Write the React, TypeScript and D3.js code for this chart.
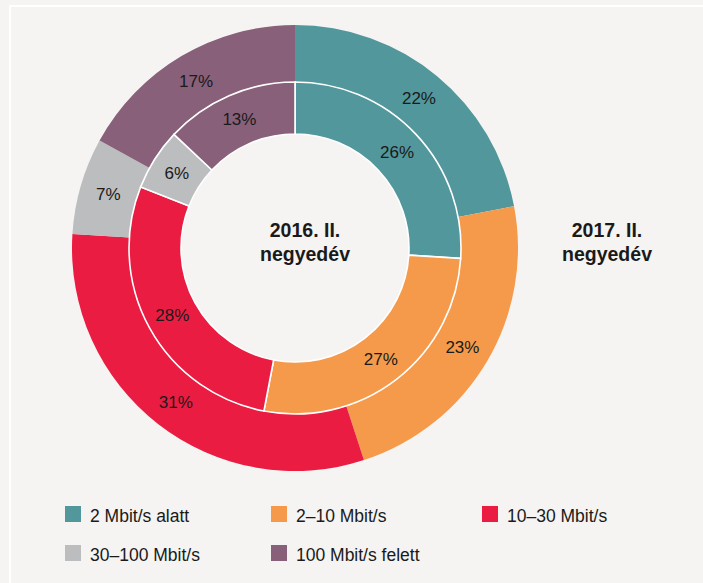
import { useRef, useEffect } from "react";
import * as d3 from "d3";

// categories, clockwise from 12 o'clock
const categories = [
  "2 Mbit/s alatt",
  "2–10 Mbit/s",
  "10–30 Mbit/s",
  "30–100 Mbit/s",
  "100 Mbit/s felett",
];
const colors = ["#52979c", "#f59a4a", "#ea1c42", "#bbbdbf", "#88607a"];

// inner ring = 2016 Q2, outer ring = 2017 Q2
const values2016 = [26, 27, 28, 6, 13];
const values2017 = [22, 23, 31, 7, 17];

const centerLabel = ["2016. II.", "negyedév"];
const sideLabel = ["2017. II.", "negyedév"];

type Slice = { name: string; value: number; color: string };

const W = 703;
const H = 583;

const App = () => {
  const svgRef = useRef<SVGSVGElement | null>(null);

  useEffect(() => {
    if (!svgRef.current) return;
    const svg = d3.select(svgRef.current);
    svg.selectAll("*").remove();

    const font = "'Liberation Sans', Arial, sans-serif";

    // background + white frame lines
    svg.append("rect").attr("width", W).attr("height", H).attr("fill", "#f5f4f2");
    svg.append("rect").attr("x", 9).attr("y", 5).attr("width", W - 9).attr("height", 2).attr("fill", "#ffffff");
    svg.append("rect").attr("x", 9).attr("y", 5).attr("width", 2).attr("height", H - 5).attr("fill", "#ffffff");

    const cx = 295;
    const cy = 248;
    const g = svg.append("g").attr("transform", `translate(${cx},${cy})`);

    const pie = d3.pie<Slice>().sort(null).value((d) => d.value);
    const toSlices = (vals: number[]): Slice[] =>
      vals.map((v, i) => ({ name: categories[i], value: v, color: colors[i] }));

    const outerArc = d3.arc<d3.PieArcDatum<Slice>>().innerRadius(166).outerRadius(223);
    const innerArc = d3.arc<d3.PieArcDatum<Slice>>().innerRadius(114).outerRadius(166);

    const outerData = pie(toSlices(values2017));
    const innerData = pie(toSlices(values2016));

    // outer ring (2017)
    g.selectAll("path.outer")
      .data(outerData)
      .enter()
      .append("path")
      .attr("class", "outer")
      .attr("d", outerArc)
      .attr("fill", (d) => d.data.color);

    // inner ring (2016) with white separators
    g.selectAll("path.inner")
      .data(innerData)
      .enter()
      .append("path")
      .attr("class", "inner")
      .attr("d", innerArc)
      .attr("fill", (d) => d.data.color)
      .attr("stroke", "#ffffff")
      .attr("stroke-width", 1.6);

    // percent labels
    const addLabels = (data: d3.PieArcDatum<Slice>[], arc: typeof outerArc, cls: string) => {
      g.selectAll(`text.${cls}`)
        .data(data)
        .enter()
        .append("text")
        .attr("class", cls)
        .attr("x", (d) => arc.centroid(d)[0])
        .attr("y", (d) => arc.centroid(d)[1])
        .attr("dy", "0.35em")
        .attr("text-anchor", "middle")
        .style("font-family", font)
        .style("font-size", "17px")
        .style("fill", "#1a1a1a")
        .text((d) => `${d.data.value}%`);
    };
    addLabels(outerData, outerArc, "lblOuter");
    addLabels(innerData, innerArc, "lblInner");

    // ring titles
    const title = (lines: string[], x: number) => {
      const t = svg
        .append("text")
        .attr("text-anchor", "middle")
        .style("font-family", font)
        .style("font-size", "19.5px")
        .style("font-weight", "bold")
        .style("fill", "#1a1a1a");
      lines.forEach((l, i) => {
        t.append("tspan").attr("x", x).attr("y", 237 + i * 24).text(l);
      });
    };
    title(centerLabel, 305);
    title(sideLabel, 607);

    // legend
    const colX = [65, 271, 482];
    const rowY = [506, 545];
    const legend = svg
      .selectAll("g.legend")
      .data(categories)
      .enter()
      .append("g")
      .attr("class", "legend")
      .attr("transform", (_, i) => `translate(${colX[i % 3]},${rowY[Math.floor(i / 3)]})`);
    legend
      .append("rect")
      .attr("width", 16)
      .attr("height", 16)
      .attr("fill", (_, i) => colors[i]);
    legend
      .append("text")
      .attr("x", 25)
      .attr("y", 15.5)
      .style("font-family", font)
      .style("font-size", "17.5px")
      .style("fill", "#1a1a1a")
      .text((d) => d);
  }, []);

  return (
    <div style={{ position: "absolute", left: 0, top: 0 }}>
      <svg ref={svgRef} width={W} height={H} style={{ display: "block" }}></svg>
    </div>
  );
};

export default App;
